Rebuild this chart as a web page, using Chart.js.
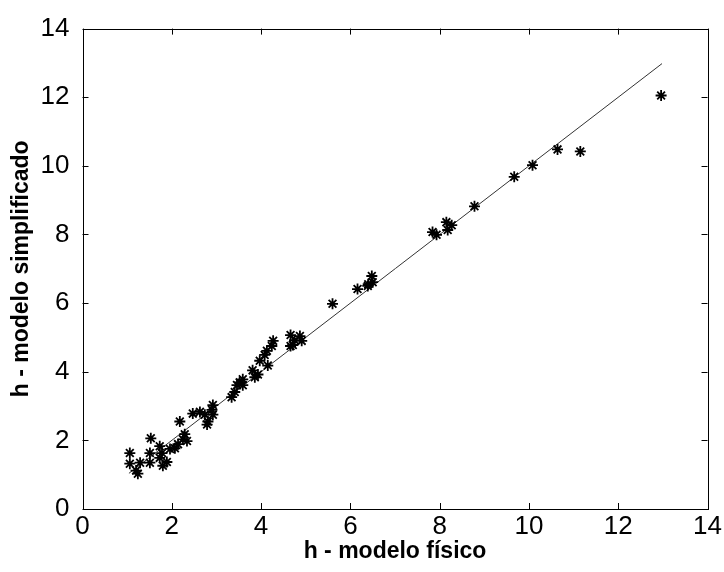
<!DOCTYPE html>
<html>
<head>
<meta charset="utf-8">
<script src="https://cdn.jsdelivr.net/npm/chart.js@4"></script>
<style>
  html, body { margin: 0; padding: 0; background: #fff; }
  #wrap { width: 724px; height: 572px; }
</style>
</head>
<body>
<div id="wrap"><canvas id="canvas" width="724" height="572"></canvas></div>
<script>
// h values: physical model (x) vs simplified model (y)
var fisico = [
  1.06, 1.06, 1.29, 1.24, 1.20, 1.53, 1.51, 1.51, 1.73, 1.78,
  1.73, 1.80, 1.89, 1.96, 2.07, 2.14, 2.18, 2.29, 2.34, 2.25,
  2.47, 2.63, 2.74, 2.81, 2.90, 2.92, 2.79, 2.92,
  3.34, 3.41, 3.46, 3.52, 3.59, 3.59, 3.81, 3.86, 3.93, 3.97,
  4.15, 4.08, 4.13, 4.24, 4.27, 4.66, 4.75, 4.87, 4.91, 4.66,
  4.71, 5.60,
  6.16, 6.39, 6.48, 6.50, 6.40, 7.84, 7.93, 8.15, 8.27, 8.18,
  8.78, 9.67, 10.08, 10.64, 11.15, 12.96
];
var simplificado = [
  1.63, 1.32, 1.35, 1.03, 1.12, 2.06, 1.63, 1.35, 1.83, 1.63,
  1.49, 1.26, 1.37, 1.75, 1.77, 1.89, 2.55, 2.18, 1.98, 2.03,
  2.78, 2.83, 2.75, 2.55, 2.89, 3.03, 2.46, 2.75,
  3.26, 3.41, 3.61, 3.69, 3.78, 3.61, 4.04, 3.84, 3.92, 4.32,
  4.18, 4.49, 4.61, 4.75, 4.90, 5.07, 4.92, 5.04, 4.90, 4.75,
  4.78, 5.98,
  6.41, 6.50, 6.79, 6.61, 6.55, 8.07, 7.99, 8.36, 8.27, 8.13,
  8.82, 9.68, 10.02, 10.48, 10.42, 12.05
];
// reference line y = x
var lineX = [1.04, 12.98];
var lineY = [1.04, 12.98];
var tickValues = [0, 2, 4, 6, 8, 10, 12, 14];

function toPoints(xs, ys) {
  return xs.map(function (x, i) { return { x: x, y: ys[i] }; });
}

// box around the plot area with inward ticks on all four sides
var frame = {
  id: 'frame',
  afterDatasetsDraw: function (chart) {
    var a = chart.chartArea, c = chart.ctx;
    var xs = chart.scales.x, ys = chart.scales.y;
    var len = 6;
    c.save();
    c.strokeStyle = '#000';
    c.lineWidth = 1;
    c.strokeRect(Math.round(a.left) + 0.5, Math.round(a.top) + 0.5,
      Math.round(a.right - a.left), Math.round(a.bottom - a.top));
    c.beginPath();
    tickValues.forEach(function (v) {
      var px = Math.round(xs.getPixelForValue(v)) + 0.5;
      c.moveTo(px, a.bottom); c.lineTo(px, a.bottom - len);
      c.moveTo(px, a.top); c.lineTo(px, a.top + len);
      var py = Math.round(ys.getPixelForValue(v)) + 0.5;
      c.moveTo(a.left, py); c.lineTo(a.left + len, py);
      c.moveTo(a.right, py); c.lineTo(a.right - len, py);
    });
    c.stroke();
    c.restore();
  }
};

var tickFont = { family: '"Liberation Sans", Arial, sans-serif', size: 26 };
var titleFont = { family: '"Liberation Sans", Arial, sans-serif', size: 23, weight: 'bold' };

var ctx = document.getElementById('canvas').getContext('2d');
window.myChart = new Chart(ctx, {
  type: 'scatter',
  data: {
    datasets: [{
      label: 'h',
      data: toPoints(fisico, simplificado),
      pointStyle: 'star',
      pointRadius: 5.5,
      pointBorderWidth: 1.8,
      borderColor: '#000',
      backgroundColor: '#000',
      showLine: false
    }, {
      label: 'y = x',
      type: 'line',
      data: toPoints(lineX, lineY),
      borderColor: '#333',
      borderWidth: 1,
      pointRadius: 0,
      fill: false
    }]
  },
  options: {
    responsive: false,
    animation: false,
    layout: { padding: { top: 20, right: 15.5, left: 0, bottom: 0 } },
    plugins: {
      legend: { display: false },
      tooltip: { enabled: false }
    },
    scales: {
      x: {
        type: 'linear',
        min: 0, max: 14,
        afterFit: function (s) { s.height = 63; },
        afterBuildTicks: function (s) { s.ticks = tickValues.map(function (v) { return { value: v }; }); },
        grid: { display: false, drawTicks: false },
        border: { display: false },
        ticks: { color: '#000', font: tickFont, padding: 2, maxRotation: 0 },
        title: { display: true, text: 'h - modelo físico', color: '#000', font: titleFont, padding: { top: 0, bottom: 7 } }
      },
      y: {
        type: 'linear',
        min: 0, max: 14,
        afterFit: function (s) { s.width = 82.5; },
        afterBuildTicks: function (s) { s.ticks = tickValues.map(function (v) { return { value: v }; }); },
        grid: { display: false, drawTicks: false },
        border: { display: false },
        ticks: { color: '#000', font: tickFont, padding: 13 },
        title: { display: true, text: 'h - modelo simplificado', color: '#000', font: titleFont, padding: { top: 8, bottom: 0 } }
      }
    }
  },
  plugins: [frame]
});
</script>
</body>
</html>
